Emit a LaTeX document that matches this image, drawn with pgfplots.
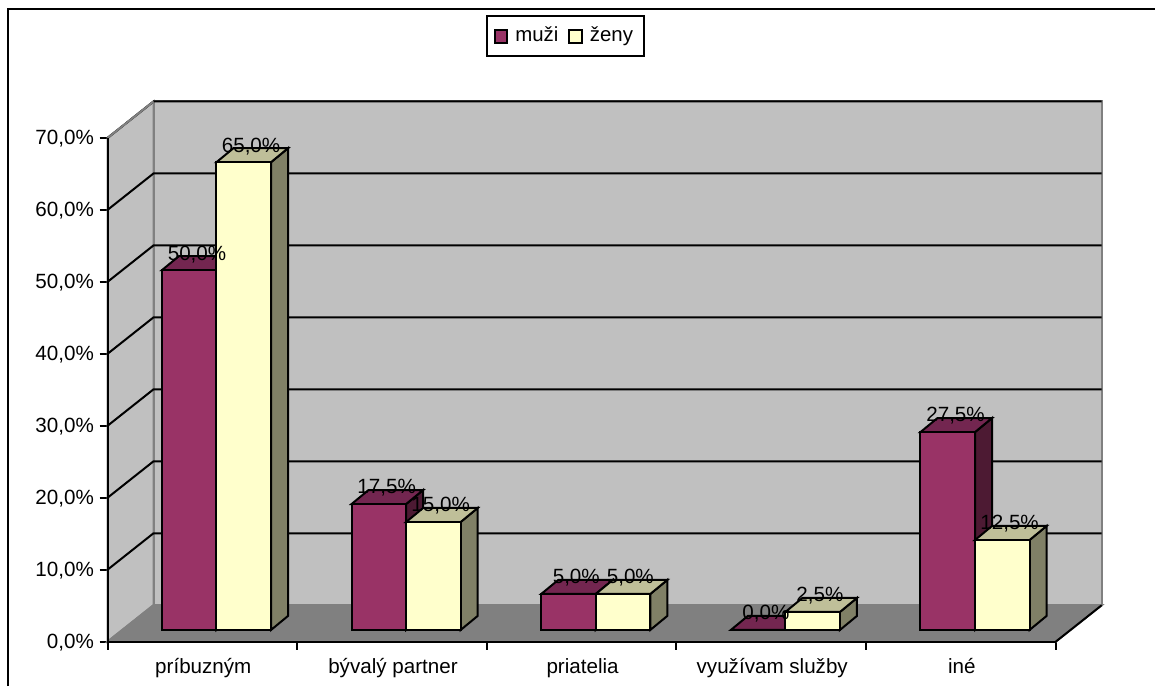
\documentclass[border=0pt]{standalone}
\usepackage{fontspec}
\setmainfont{Liberation Sans}
\usepackage{pgfplots}
\usepackage{pgfplotstable}
\pgfplotsset{compat=1.18}

\definecolor{wall}{HTML}{C0C0C0}
\definecolor{floorc}{HTML}{808080}
\definecolor{mFront}{HTML}{993366}
\definecolor{mSide}{HTML}{4D1A33}
\definecolor{mTop}{HTML}{732650}
\definecolor{zFront}{HTML}{FFFFCC}
\definecolor{zSide}{HTML}{808066}
\definecolor{zTop}{HTML}{BFBF99}

\pgfplotstableread{
cat muzi zeny
0 50.0 65.0
1 17.5 15.0
2 5.0 5.0
3 0.0 2.5
4 27.5 12.5
}\data

% depth of the box in axis units
\def\wx{0.2427}\def\wy{5.07}
\def\bx{0.0897}\def\by{1.95}
\def\bw{0.2876}\def\bz{1.63}

% x start, value, front, side, top
\newcommand{\cube}[5]{%
  \pgfmathsetmacro\xa{#1}\pgfmathsetmacro\xb{#1+\bw}%
  \pgfmathsetmacro\xc{\xb+\bx}\pgfmathsetmacro\xd{\xa+\bx}%
  \pgfmathsetmacro\ya{\bz}\pgfmathsetmacro\yb{#2+\bz}%
  \pgfmathsetmacro\yc{\yb+\by}\pgfmathsetmacro\yd{\ya+\by}%
  \edef\tmp{%
    \noexpand\addplot[fill=#4,draw=black,line width=1pt,forget plot] coordinates {(\xb,\ya)(\xc,\yd)(\xc,\yc)(\xb,\yb)} -- cycle;
    \noexpand\addplot[fill=#5,draw=black,line width=1pt,forget plot] coordinates {(\xa,\yb)(\xd,\yc)(\xc,\yc)(\xb,\yb)} -- cycle;
    \noexpand\addplot[fill=#3,draw=black,line width=1pt,forget plot] coordinates {(\xa,\ya)(\xb,\ya)(\xb,\yb)(\xa,\yb)} -- cycle;
  }\tmp
}

\begin{document}
\begin{tikzpicture}
\useasboundingbox (-53.75pt,-22.15pt) rectangle (523.75pt,320.85pt);
\begin{axis}[
  scale only axis,
  width=497.1pt, height=270.1pt,
  xmin=0, xmax=5.2427, ymin=0, ymax=75.07,
  clip=false,
  axis line style={draw=none},
  tick align=outside, tick pos=left,
  tick style={black,line width=1pt},
  major tick length=4pt,
  xtick={0,1,2,3,4,5},
  xticklabels={príbuzným,bývalý partner,priatelia,využívam služby,iné},
  x tick label as interval,
  ytick={0,10,20,30,40,50,60,70},
  yticklabel={\pgfmathprintnumber[fixed,fixed zerofill,precision=1,use comma,assume math mode=true]{\tick}\%},
  tick label style={font=\fontsize{10.3}{12}\selectfont},
  xticklabel style={xshift=.5pt,yshift=-1pt},
  yticklabel style={xshift=.7pt,yshift=-.5pt},
  legend columns=2,
  legend style={
    at={(0.3807,1.160)},anchor=north west,
    draw=black,line width=1pt,
    font=\fontsize{10.2}{12}\selectfont,
    inner xsep=3.5pt,inner ysep=3.5pt,
    /tikz/every even column/.append style={column sep=3pt},
  },
]
% walls and floor
\addplot[fill=wall,draw=floorc,line width=1pt,forget plot] coordinates {(0,0)(\wx,\wy)(\wx,70+\wy)(0,70)} -- cycle;
\addplot[fill=wall,draw=floorc,line width=1pt,forget plot] coordinates {(\wx,\wy)(5+\wx,\wy)(5+\wx,70+\wy)(\wx,70+\wy)} -- cycle;
\addplot[fill=floorc,draw=floorc,line width=1pt,forget plot] coordinates {(0,0)(5,0)(5+\wx,\wy)(\wx,\wy)} -- cycle;
\addplot[draw=black,line width=1pt,forget plot] coordinates {(5,0)(5+\wx,\wy)};
% gridlines
\pgfplotsinvokeforeach{10,20,30,40,50,60,70}{
  \pgfmathsetmacro\gy{#1+\wy}
  \edef\tmp{\noexpand\addplot[draw=black,line width=1pt,forget plot] coordinates {(0,#1)(\wx,\gy)(5.2427,\gy)};}\tmp
}
\addplot[draw=floorc,line width=1pt,forget plot] coordinates {(0,70)(\wx,70+\wy)};
% front axis lines
\addplot[draw=black,line width=1pt,forget plot] coordinates {(0,70)(0,0)(5,0)};
% bars
\pgfplotsinvokeforeach{0,1,2,3,4}{
  \pgfplotstablegetelem{#1}{muzi}\of\data \let\vm\pgfplotsretval
  \pgfplotstablegetelem{#1}{zeny}\of\data \let\vz\pgfplotsretval
  \pgfmathsetmacro\xm{#1+0.287}
  \pgfmathsetmacro\xz{#1+0.287+\bw}
  \cube{\xm}{\vm}{mFront}{mSide}{mTop}
  \cube{\xz}{\vz}{zFront}{zSide}{zTop}
}
% value labels
\addplot[draw=none,forget plot,point meta=explicit,
  nodes near coords={\pgfmathprintnumber[fixed,fixed zerofill,precision=1,use comma,assume math mode=true]{\pgfplotspointmeta}\%},
  every node near coord/.append style={anchor=center,yshift=8pt,inner sep=0pt,font=\fontsize{10.3}{12}\selectfont,text=black}]
  table[x expr=\thisrow{cat}+0.472,y expr=\thisrow{muzi}+\bz,meta=muzi]{\data};
\addplot[draw=none,forget plot,point meta=explicit,
  nodes near coords={\pgfmathprintnumber[fixed,fixed zerofill,precision=1,use comma,assume math mode=true]{\pgfplotspointmeta}\%},
  every node near coord/.append style={anchor=center,yshift=8pt,inner sep=0pt,font=\fontsize{10.3}{12}\selectfont,text=black}]
  table[x expr=\thisrow{cat}+0.757,y expr=\thisrow{zeny}+\bz,meta=zeny]{\data};
% legend
\addlegendimage{legend image code/.code={\draw[fill=mFront,draw=black,line width=1pt] (0,-3.6pt) rectangle (6.2pt,2.8pt);\path (7.7pt,0);}}
\addlegendentry{muži}
\addlegendimage{legend image code/.code={\draw[fill=zFront,draw=black,line width=1pt] (0,-3.6pt) rectangle (6.2pt,2.8pt);\path (7.7pt,0);}}
\addlegendentry{ženy\hspace{2.5pt}}
\end{axis}
\draw[line width=1pt] (-49.75pt,-22.15pt) -- (-49.75pt,316.35pt) -- (523.75pt,316.35pt);
\end{tikzpicture}
\end{document}
